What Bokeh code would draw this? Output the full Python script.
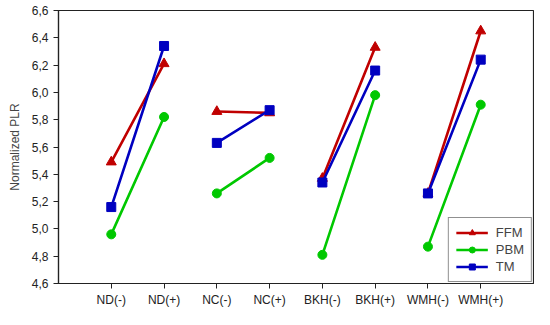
import numpy as np
from bokeh.plotting import figure
from bokeh.models import Range1d, FixedTicker, Legend, LegendItem
from bokeh.embed import file_html
from bokeh.resources import INLINE

categories = ["ND(-)", "ND(+)", "NC(-)", "NC(+)", "BKH(-)", "BKH(+)", "WMH(-)", "WMH(+)"]
ffm = [5.49, 6.21, 5.86, 5.85, 5.37, 6.33, 5.26, 6.45]
pbm = [4.96, 5.82, 5.26, 5.52, 4.81, 5.98, 4.87, 5.91]
tm = [5.16, 6.34, 5.63, 5.87, 5.34, 6.16, 5.26, 6.24]
y_ticks = [4.6, 4.8, 5.0, 5.2, 5.4, 5.6, 5.8, 6.0, 6.2, 6.4, 6.6]
y_tick_labels = ["4,6", "4,8", "5,0", "5,2", "5,4", "5,6", "5,8", "6,0", "6,2", "6,4", "6,6"]

FONT = "Liberation Sans"

p = figure(width=534, height=309, output_backend="svg", toolbar_location=None,
           x_range=Range1d(0, 9), y_range=Range1d(4.6, 6.6),
           min_border_left=58, min_border_right=1, min_border_top=10, min_border_bottom=26)
p.xgrid.visible = False
p.ygrid.visible = False
p.outline_line_color = "#222222"
p.outline_line_width = 1.2
p.background_fill_color = "white"

xs_pos = list(range(1, len(categories) + 1))
p.xaxis.ticker = FixedTicker(ticks=xs_pos)
p.xaxis.major_label_overrides = {x: c for x, c in zip(xs_pos, categories)}
p.yaxis.ticker = FixedTicker(ticks=y_ticks)
p.yaxis.major_label_overrides = {t: l for t, l in zip(y_ticks, y_tick_labels)}
p.yaxis.axis_label = "Normalized PLR"
for ax in (p.xaxis[0], p.yaxis[0]):
    ax.major_label_text_font = FONT
    ax.major_label_text_font_size = "12px"
    ax.major_label_text_color = "#222222"
    ax.axis_label_text_font = FONT
    ax.axis_label_text_font_size = "12px"
    ax.axis_label_text_font_style = "normal"
    ax.minor_tick_line_color = None
    ax.major_tick_in = 0
    ax.major_tick_out = 5
    ax.axis_line_color = "#222222"
    ax.axis_line_width = 1.2
    ax.major_tick_line_color = "#222222"
p.yaxis.axis_label_standoff = 7
p.xaxis.major_label_standoff = 4


def broken(vals):
    xs, ys = [], []
    for i in range(0, len(vals), 2):
        xs += [xs_pos[i], xs_pos[i + 1], np.nan]
        ys += [vals[i], vals[i + 1], np.nan]
    return xs, ys


series = [("FFM", ffm, "#C00000", "triangle", 10),
          ("PBM", pbm, "#00C800", "circle", 9),
          ("TM", tm, "#0000C0", "square", 9)]
items = []
for name, vals, col, mk, sz in series:
    lx, ly = broken(vals)
    r1 = p.line(lx, ly, line_color=col, line_width=2.6)
    r2 = p.scatter(xs_pos, vals, marker=mk, size=sz, fill_color=col, line_color=col)
    items.append(LegendItem(label=name, renderers=[r1, r2]))

legend = Legend(items=items, location="bottom_right",
                label_text_font=FONT, label_text_font_size="13px",
                border_line_color="#222222", border_line_width=1.2,
                glyph_width=32, glyph_height=15, spacing=2,
                padding=7, margin=1, label_standoff=8)
p.add_layout(legend, "center")

open("out.html", "w").write(file_html(p, INLINE))
